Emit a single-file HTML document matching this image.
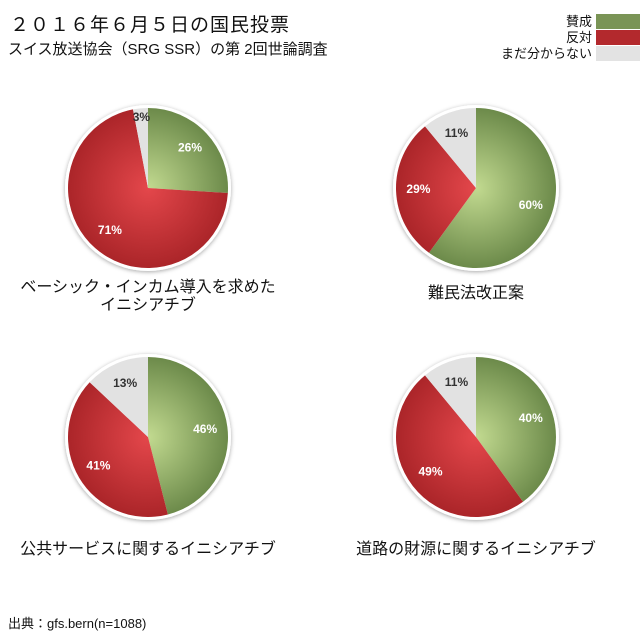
<!DOCTYPE html>
<html><head><meta charset="utf-8"><style>
body{margin:0;background:#fff;font-family:"Liberation Sans","Noto Sans CJK JP",sans-serif;}
#c{position:relative;width:640px;height:640px;overflow:hidden}
.t{position:absolute;white-space:nowrap;color:#111}
</style></head><body><div id="c">
<div class="t" style="left:10px;top:10px;font-size:19px;letter-spacing:1px">２０１６年６月５日の国民投票</div>
<div class="t" style="left:8px;top:38px;font-size:15px">スイス放送協会（SRG SSR）の第 2回世論調査</div>
<div class="t" style="right:48px;top:14px;font-size:13px;line-height:16px;text-align:right">賛成<br>反対<br>まだ分からない</div>
<div style="position:absolute;left:596px;top:14px;width:44px;height:15px;background:#7a9456"></div>
<div style="position:absolute;left:596px;top:30px;width:44px;height:15px;background:#b3292d"></div>
<div style="position:absolute;left:596px;top:46px;width:44px;height:15px;background:#e3e3e3"></div>
<svg id="s" width="640" height="640" style="position:absolute;left:0;top:0">
<defs>
<filter id="sh" x="-20%" y="-20%" width="140%" height="140%"><feDropShadow dx="0" dy="1" stdDeviation="2" flood-color="#000" flood-opacity="0.35"/></filter>
</defs>
</svg>
<div class="t" style="left:0;width:296px;text-align:center;top:279px;font-size:16px;line-height:18px">ベーシック・インカム導入を求めた<br>イニシアチブ</div>
<div class="t" style="left:328px;width:296px;text-align:center;top:279px;font-size:16px">難民法改正案</div>
<div class="t" style="left:0;width:296px;text-align:center;top:535px;font-size:16px">公共サービスに関するイニシアチブ</div>
<div class="t" style="left:328px;width:296px;text-align:center;top:535px;font-size:16px">道路の財源に関するイニシアチブ</div>
<div class="t" style="left:8px;top:613px;font-size:13px">出典：gfs.bern(n=1088)</div>
</div>
<script>
var s=document.getElementById('s'),NS='http://www.w3.org/2000/svg';
function el(t,a,p){var e=document.createElementNS(NS,t);for(var k in a)e.setAttribute(k,a[k]);(p||s).appendChild(e);return e;}
var pies=[[148,188,[26,71,3]],[476,188,[60,29,11]],[148,437,[46,41,13]],[476,437,[40,49,11]]];
var R=80;
pies.forEach(function(p,i){
 var cx=p[0],cy=p[1];
 el('circle',{cx:cx,cy:cy,r:R+3,fill:'#fff',filter:'url(#sh)'});
 var g=el('radialGradient',{id:'g'+i,gradientUnits:'userSpaceOnUse',cx:cx,cy:cy,r:R},s.querySelector('defs'));
 el('stop',{offset:0,'stop-color':'#c2da90'},g);el('stop',{offset:1,'stop-color':'#6c8a4a'},g);
 var r=el('radialGradient',{id:'r'+i,gradientUnits:'userSpaceOnUse',cx:cx,cy:cy,r:R},s.querySelector('defs'));
 el('stop',{offset:0,'stop-color':'#e4474b'},r);el('stop',{offset:1,'stop-color':'#ab2529'},r);
 var fills=['url(#g'+i+')','url(#r'+i+')','#e2e2e2'];
 var a=0;
 p[2].forEach(function(v,j){
  var a0=a/100*2*Math.PI,a1=(a+v)/100*2*Math.PI;
  var x0=cx+R*Math.sin(a0),y0=cy-R*Math.cos(a0),x1=cx+R*Math.sin(a1),y1=cy-R*Math.cos(a1);
  el('path',{d:'M'+cx+','+cy+'L'+x0+','+y0+'A'+R+','+R+' 0 '+(v>50?1:0)+' 1 '+x1+','+y1+'Z',fill:fills[j]});
  var m=(a+v/2)/100*2*Math.PI,lr=(v<5?0.88:0.72)*R;
  var t=el('text',{x:cx+lr*Math.sin(m),y:cy-lr*Math.cos(m)+3,'text-anchor':'middle','font-size':12,'font-weight':'bold','font-family':'Liberation Sans, sans-serif',fill:j==2?'#333':'#fff'});
  t.textContent=v+'%';
  a+=v;
 });
});
</script>
</body></html>
